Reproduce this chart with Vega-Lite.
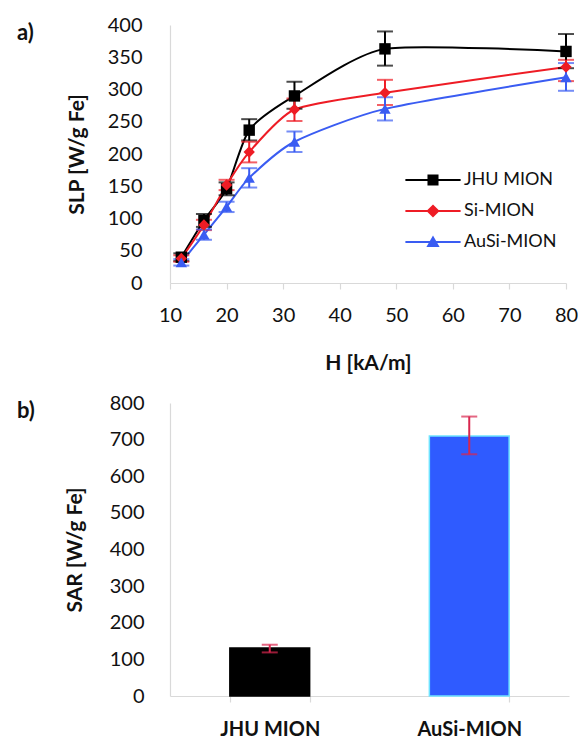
{
  "$schema": "https://vega.github.io/schema/vega-lite/v6.json",
  "autosize": {"type": "pad"},
  "padding": {"left": 17, "top": 15, "right": 0, "bottom": 0},
  "background": "white",
  "config": {
    "font": "Lato",
    "view": {"stroke": null},
    "axis": {
      "domainColor": "#d9d9d9",
      "domainWidth": 1.2,
      "tickColor": "#d9d9d9",
      "tickWidth": 1.2,
      "grid": false,
      "labelFont": "Lato",
      "labelFontSize": 20,
      "labelColor": "#111",
      "labelOverlap": false,
      "labelFlush": false,
      "labelBound": false,
      "titleFont": "Lato",
      "titleFontSize": 21,
      "titleFontWeight": "bold",
      "titleColor": "#111"
    },
    "legend": {"padding": 0}
  },
  "datasets": {
    "slp": [
      {"series": "JHU MION", "H": 12, "SLP": 40, "lo": 34, "hi": 46},
      {"series": "JHU MION", "H": 16, "SLP": 97, "lo": 87, "hi": 107},
      {"series": "JHU MION", "H": 20, "SLP": 146, "lo": 136, "hi": 156},
      {"series": "JHU MION", "H": 24, "SLP": 237, "lo": 221, "hi": 254},
      {"series": "JHU MION", "H": 32, "SLP": 290, "lo": 270, "hi": 312},
      {"series": "JHU MION", "H": 48, "SLP": 363, "lo": 337, "hi": 390},
      {"series": "JHU MION", "H": 80, "SLP": 359, "lo": 333, "hi": 386},
      {"series": "Si-MION", "H": 12, "SLP": 38, "lo": 33, "hi": 43},
      {"series": "Si-MION", "H": 16, "SLP": 90, "lo": 82, "hi": 98},
      {"series": "Si-MION", "H": 20, "SLP": 152, "lo": 144, "hi": 160},
      {"series": "Si-MION", "H": 24, "SLP": 203, "lo": 187, "hi": 219},
      {"series": "Si-MION", "H": 32, "SLP": 269, "lo": 251, "hi": 286},
      {"series": "Si-MION", "H": 48, "SLP": 295, "lo": 276, "hi": 315},
      {"series": "Si-MION", "H": 80, "SLP": 335, "lo": 313, "hi": 346},
      {"series": "AuSi-MION", "H": 12, "SLP": 32, "lo": 27, "hi": 37},
      {"series": "AuSi-MION", "H": 16, "SLP": 75, "lo": 67, "hi": 83},
      {"series": "AuSi-MION", "H": 20, "SLP": 118, "lo": 110, "hi": 126},
      {"series": "AuSi-MION", "H": 24, "SLP": 163, "lo": 148, "hi": 178},
      {"series": "AuSi-MION", "H": 32, "SLP": 219, "lo": 203, "hi": 235},
      {"series": "AuSi-MION", "H": 48, "SLP": 270, "lo": 252, "hi": 288},
      {"series": "AuSi-MION", "H": 80, "SLP": 319, "lo": 298, "hi": 341}
    ],
    "sar": [
      {"sample": "JHU MION", "SAR": 131, "lo": 119, "hi": 140},
      {"sample": "AuSi-MION", "SAR": 710, "lo": 660, "hi": 763}
    ]
  },
  "spacing": 20,
  "vconcat": [
    {
      "width": 396,
      "height": 258,
      "title": {"text": "a)", "anchor": "start", "frame": "group", "orient": "top", "baseline": "top", "offset": 0, "dx": -153, "dy": 30, "fontSize": 22, "fontWeight": "bold", "color": "#111"},
      "data": {"name": "slp"},
      "resolve": {"scale": {"color": "independent", "shape": "independent"}},
      "layer": [
        {
          "mark": {"type": "line", "interpolate": "cardinal", "tension": 0.35, "strokeWidth": 2},
          "encoding": {
            "x": {"field": "H", "type": "quantitative", "title": "H [kA/m]", "scale": {"domain": [10, 80], "nice": false},
              "axis": {"values": [10, 20, 30, 40, 50, 60, 70, 80], "tickSize": 6, "labelPadding": 16, "titlePadding": 27}},
            "y": {"field": "SLP", "type": "quantitative", "title": "SLP [W/g Fe]", "scale": {"domain": [0, 400], "nice": false},
              "axis": {"values": [0, 50, 100, 150, 200, 250, 300, 350, 400], "ticks": false, "tickSize": 0, "labelPadding": 28, "titlePadding": 20}},
            "color": {"field": "series", "type": "nominal", "legend": null,
              "scale": {"domain": ["JHU MION", "Si-MION", "AuSi-MION"], "range": ["#000000", "#ee1c25", "#3a5cf2"]}},
            "detail": {"field": "series"}
          }
        },
        {
          "mark": {"type": "errorbar", "ticks": {"size": 16}, "thickness": 2},
          "encoding": {
            "x": {"field": "H", "type": "quantitative", "title": "H [kA/m]",
              "axis": {"values": [10, 20, 30, 40, 50, 60, 70, 80], "tickSize": 6, "labelPadding": 16, "titlePadding": 27}},
            "y": {"field": "lo", "type": "quantitative", "title": "SLP [W/g Fe]",
              "axis": {"values": [0, 50, 100, 150, 200, 250, 300, 350, 400], "ticks": false, "tickSize": 0, "labelPadding": 28, "titlePadding": 20}},
            "y2": {"field": "hi"},
            "color": {"field": "series", "type": "nominal", "legend": null,
              "scale": {"domain": ["JHU MION", "Si-MION", "AuSi-MION"], "range": ["#000000", "#ee1c25", "#3a5cf2"]}}
          }
        },
        {
          "mark": {"type": "point", "filled": true, "opacity": 1},
          "encoding": {
            "x": {"field": "H", "type": "quantitative", "title": "H [kA/m]",
              "axis": {"values": [10, 20, 30, 40, 50, 60, 70, 80], "tickSize": 6, "labelPadding": 16, "titlePadding": 27}},
            "y": {"field": "SLP", "type": "quantitative", "title": "SLP [W/g Fe]",
              "axis": {"values": [0, 50, 100, 150, 200, 250, 300, 350, 400], "ticks": false, "tickSize": 0, "labelPadding": 28, "titlePadding": 20}},
            "color": {"field": "series", "type": "nominal", "legend": null,
              "scale": {"domain": ["JHU MION", "Si-MION", "AuSi-MION"], "range": ["#000000", "#ee1c25", "#3a5cf2"]}},
            "shape": {"field": "series", "type": "nominal", "legend": null,
              "scale": {"domain": ["JHU MION", "Si-MION", "AuSi-MION"], "range": ["square", "diamond", "triangle-up"]}},
            "size": {"value": 130}
          }
        },
        {
          "transform": [{"filter": "false"}],
          "mark": {"type": "point", "filled": true, "opacity": 1},
          "encoding": {
            "x": {"field": "H", "type": "quantitative", "title": "H [kA/m]",
              "axis": {"values": [10, 20, 30, 40, 50, 60, 70, 80], "tickSize": 6, "labelPadding": 16, "titlePadding": 27}},
            "y": {"field": "SLP", "type": "quantitative", "title": "SLP [W/g Fe]",
              "axis": {"values": [0, 50, 100, 150, 200, 250, 300, 350, 400], "ticks": false, "tickSize": 0, "labelPadding": 28, "titlePadding": 20}},
            "color": {"field": "series", "type": "nominal",
              "scale": {"domain": ["JHU MION", "Si-MION", "AuSi-MION"], "range": ["#000000", "#ee1c25", "#3a5cf2"]},
              "legend": {"orient": "none", "legendX": 254, "legendY": 146, "title": null, "symbolSize": 144, "symbolStrokeWidth": 0, "symbolOpacity": 1, "labelOffset": 22, "rowPadding": 13, "labelFontSize": 18, "labelFont": "Lato", "labelColor": "#111"}},
            "shape": {"field": "series", "type": "nominal",
              "scale": {"domain": ["JHU MION", "Si-MION", "AuSi-MION"], "range": [
                "M-4.6,-0.17H4.6V0.17H-4.6Z M-0.92,-0.92H0.92V0.92H-0.92Z",
                "M-4.6,-0.17H4.6V0.17H-4.6Z M0,-1.1L1.1,0L0,1.1L-1.1,0Z",
                "M-4.6,-0.17H4.6V0.17H-4.6Z M0,-1.1L1.1,0.85L-1.1,0.85Z"]},
              "legend": {"orient": "none", "legendX": 254, "legendY": 146, "title": null, "symbolSize": 144, "symbolStrokeWidth": 0, "symbolOpacity": 1, "labelOffset": 22, "rowPadding": 13, "labelFontSize": 18, "labelFont": "Lato", "labelColor": "#111"}}
          }
        }
      ]
    },
    {
      "width": 399,
      "height": 293,
      "title": {"text": "b)", "anchor": "start", "frame": "group", "orient": "top", "baseline": "top", "offset": 0, "dx": -153, "dy": 30, "fontSize": 22, "fontWeight": "bold", "color": "#111"},
      "data": {"name": "sar"},
      "layer": [
        {
          "mark": {"type": "bar", "strokeWidth": 1.5},
          "encoding": {
            "x": {"field": "sample", "type": "nominal", "sort": null, "title": null,
              "scale": {"paddingInner": 0.6, "paddingOuter": 0.3},
              "axis": {"labelAngle": 0, "tickBand": "extent", "tickSize": 6, "labelPadding": 17, "labelFontWeight": "bold", "labelFontSize": 20}},
            "y": {"field": "SAR", "type": "quantitative", "title": "SAR [W/g Fe]", "scale": {"domain": [0, 800], "nice": false},
              "axis": {"values": [0, 100, 200, 300, 400, 500, 600, 700, 800], "ticks": false, "tickSize": 0, "labelPadding": 26, "titlePadding": 24}},
            "color": {"field": "sample", "type": "nominal", "legend": null,
              "scale": {"domain": ["JHU MION", "AuSi-MION"], "range": ["#000000", "#2f5bff"]}},
            "stroke": {"field": "sample", "type": "nominal", "legend": null,
              "scale": {"domain": ["JHU MION", "AuSi-MION"], "range": ["#000000", "#6fe3ff"]}}
          }
        },
        {
          "mark": {"type": "errorbar", "ticks": {"size": 16}, "thickness": 2, "color": "#d8264e"},
          "encoding": {
            "x": {"field": "sample", "type": "nominal", "sort": null, "title": null,
              "axis": {"labelAngle": 0, "tickBand": "extent", "tickSize": 6, "labelPadding": 17, "labelFontWeight": "bold", "labelFontSize": 20}},
            "y": {"field": "lo", "type": "quantitative", "title": "SAR [W/g Fe]",
              "axis": {"values": [0, 100, 200, 300, 400, 500, 600, 700, 800], "ticks": false, "tickSize": 0, "labelPadding": 26, "titlePadding": 24}},
            "y2": {"field": "hi"}
          }
        }
      ]
    }
  ]
}
